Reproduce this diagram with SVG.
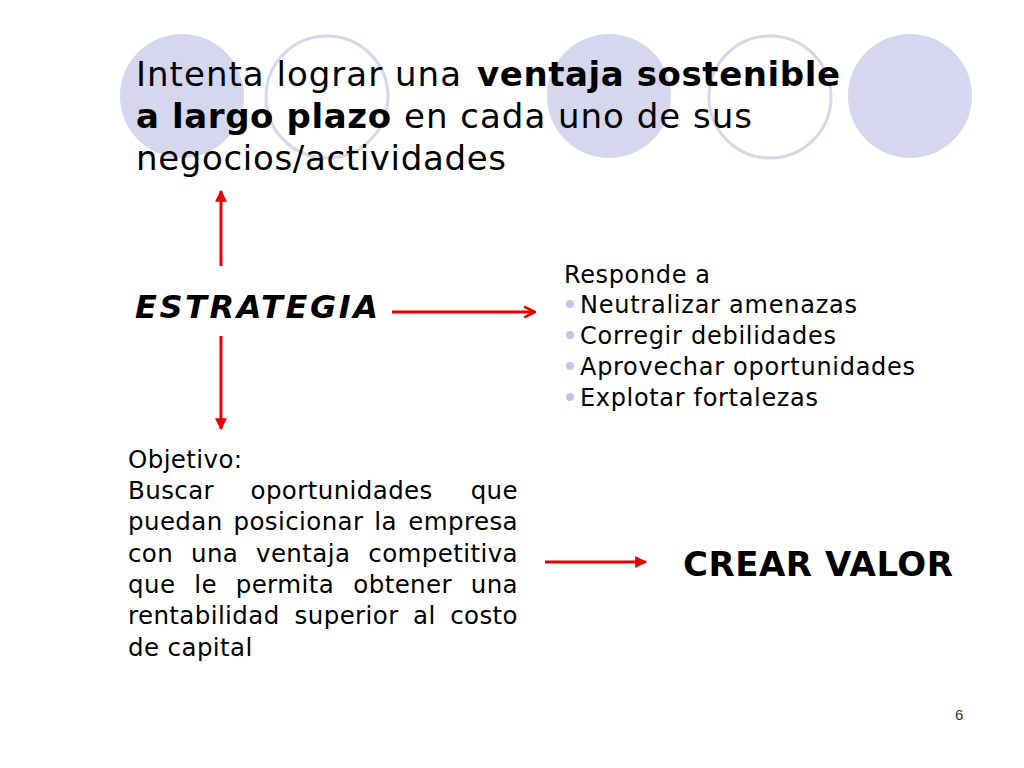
<svg xmlns="http://www.w3.org/2000/svg" width="1024" height="768" viewBox="0 0 1024 768">
<style>
  .t { font-family: "DejaVu Sans", Verdana, sans-serif; fill: #000; }
  .title { font-size: 34px; }
  .body { font-size: 24px; }
  .obj { font-size: 24.5px; letter-spacing: 0.4px; }
  .b { font-weight: bold; }
  .deco-fill { fill: #d6d6ee; }
  .deco-ring { fill: none; stroke: #d6d6ee; stroke-width: 3; }
  .conn { stroke: #e60000; stroke-width: 3; fill: none; }
  .bullet { fill: #c4c4ea; }
</style>
<defs>
  <marker id="tri" viewBox="0 0 10 10" refX="9" refY="5" markerWidth="4" markerHeight="4" orient="auto" markerUnits="strokeWidth">
    <path d="M0,0 L10,5 L0,10 Z" fill="#e60000"/>
  </marker>
  <marker id="chev" viewBox="0 0 10 10" refX="9" refY="5" markerWidth="4.5" markerHeight="4.5" orient="auto" markerUnits="strokeWidth">
    <path d="M1,1 L9,5 L1,9" fill="none" stroke="#e60000" stroke-width="2"/>
  </marker>
</defs>
<rect width="1024" height="768" fill="#fff"/>
<g id="decoration">
  <circle class="deco-fill" cx="182" cy="96" r="62"/>
  <circle class="deco-ring" cx="327" cy="97" r="61"/>
  <circle class="deco-fill" cx="609" cy="96" r="62"/>
  <circle class="deco-ring" cx="770" cy="97" r="61"/>
  <circle class="deco-fill" cx="910" cy="96" r="62"/>
</g>
<g id="title" class="t title">
  <text x="136" y="86" textLength="325" lengthAdjust="spacing">Intenta lograr una</text>
  <text class="b" x="477" y="86" textLength="363" lengthAdjust="spacing">ventaja sostenible</text>
  <text class="b" x="136" y="128" textLength="255" lengthAdjust="spacing">a largo plazo</text>
  <text x="404" y="128" textLength="348" lengthAdjust="spacing">en cada uno de sus</text>
  <text x="136" y="170" textLength="370" lengthAdjust="spacing">negocios/actividades</text>
</g>
<g id="estrategia">
  <text class="t b" x="135" y="318" font-size="32" font-style="italic" textLength="243" lengthAdjust="spacing">ESTRATEGIA</text>
</g>
<g id="responde" class="t body">
  <text x="564" y="283" textLength="146" lengthAdjust="spacing">Responde a</text>
  <circle class="bullet" cx="570" cy="304" r="4"/>
  <text x="580" y="313" textLength="277" lengthAdjust="spacing">Neutralizar amenazas</text>
  <circle class="bullet" cx="570" cy="335" r="4"/>
  <text x="580" y="344" textLength="256" lengthAdjust="spacing">Corregir debilidades</text>
  <circle class="bullet" cx="570" cy="366" r="4"/>
  <text x="580" y="375" textLength="335" lengthAdjust="spacing">Aprovechar oportunidades</text>
  <circle class="bullet" cx="570" cy="397" r="4"/>
  <text x="580" y="406" textLength="238" lengthAdjust="spacing">Explotar fortalezas</text>
</g>
<g id="objetivo" class="t obj">
  <text x="128" y="468">Objetivo:</text>
  <text x="128" y="499">Buscar</text>
  <text x="250.5" y="499">oportunidades</text>
  <text x="518" y="499" text-anchor="end">que</text>
  <text x="128" y="530">puedan</text>
  <text x="233.5" y="530">posicionar</text>
  <text x="374.3" y="530">la</text>
  <text x="518" y="530" text-anchor="end">empresa</text>
  <text x="128" y="562">con</text>
  <text x="191" y="562">una</text>
  <text x="256" y="562">ventaja</text>
  <text x="518" y="562" text-anchor="end">competitiva</text>
  <text x="128" y="593">que</text>
  <text x="194.2" y="593">le</text>
  <text x="235.7" y="593">permita</text>
  <text x="353.3" y="593">obtener</text>
  <text x="518" y="593" text-anchor="end">una</text>
  <text x="128" y="624">rentabilidad</text>
  <text x="294.6" y="624">superior</text>
  <text x="413" y="624">al</text>
  <text x="518" y="624" text-anchor="end">costo</text>
  <text x="128" y="656">de capital</text>
</g>
<g id="crear-valor">
  <text class="t b" x="683" y="576" font-size="34" textLength="270" lengthAdjust="spacing">CREAR VALOR</text>
</g>
<g id="connectors">
  <line class="conn" x1="221" y1="266" x2="221" y2="191" marker-end="url(#tri)"/>
  <line class="conn" x1="221" y1="336" x2="221" y2="429" marker-end="url(#tri)"/>
  <line class="conn" x1="392" y1="312" x2="535" y2="312" marker-end="url(#chev)"/>
  <line class="conn" x1="545" y1="562" x2="646" y2="562" marker-end="url(#tri)"/>
</g>
<text x="955" y="720" font-family="Liberation Sans, Arial, sans-serif" font-size="15" fill="#333">6</text>
</svg>
